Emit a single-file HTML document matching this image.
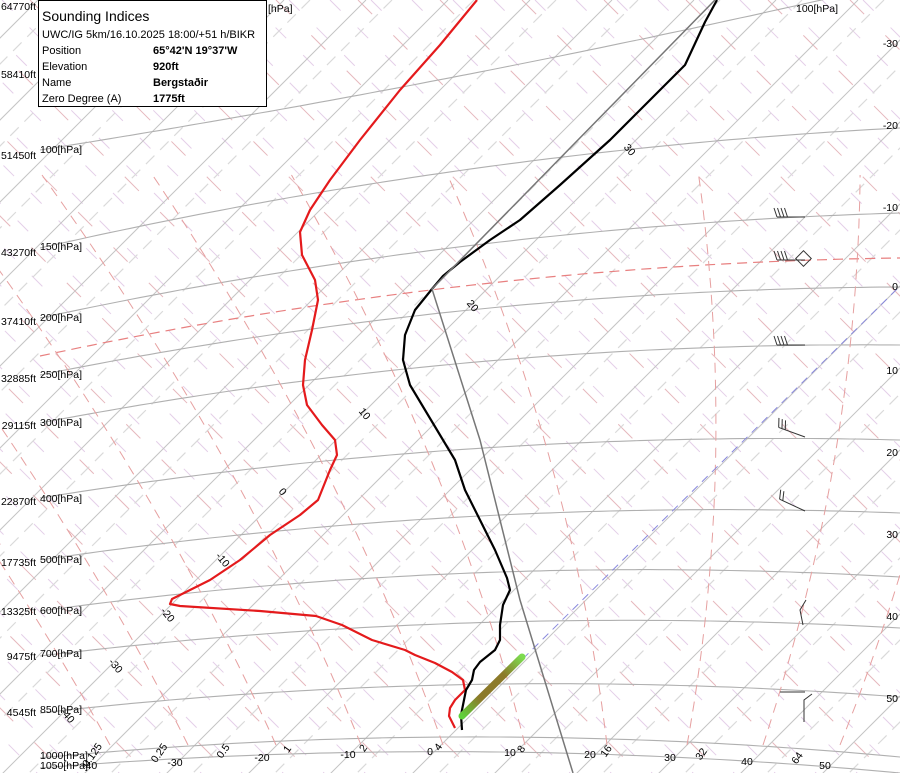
<!DOCTYPE html>
<html><head><meta charset="utf-8"><style>
html,body{margin:0;padding:0;background:#fff;overflow:hidden;width:900px;height:773px;}
svg{display:block;font-family:"Liberation Sans",sans-serif;}
</style></head><body>
<svg id="s" width="900" height="773" viewBox="0 0 900 773" xmlns="http://www.w3.org/2000/svg">
<g id="grid"></g>
<g id="curves">
<polyline fill="none" stroke="#e41a1c" stroke-width="2.2" stroke-linejoin="round" points="477,0 440,45 400,90 360,140 330,180 310,210 300,232 302,255 315,280 318,300 312,330 305,360 303,385 307,405 322,425 335,440 337,455 330,470 322,490 318,500 300,515 270,535 240,560 210,580 172,599 170,604 180,606 260,611 316,616 342,625 372,640 405,650 415,655 435,663 452,672 463,680 465,690 455,700 450,708 449,716 455,728"/>
<polyline fill="none" stroke="#000" stroke-width="2.2" stroke-linejoin="round" points="717,0 705,22 685,65 650,100 610,140 560,185 520,220 490,240 460,262 443,276 432,289 415,310 405,335 403,360 410,385 425,410 440,435 455,460 465,490 480,520 495,550 507,578 510,590 503,605 500,625 500,640 495,650 480,662 474,670 472,680 466,690 464,700 461,715 462,730"/>
<polyline fill="none" stroke="#777" stroke-width="1.5" points="715,0 432,289 480,440 520,600 573,773"/>
<defs><linearGradient id="gb" x1="0" y1="1" x2="1" y2="0"><stop offset="0" stop-color="#5fd03a"/><stop offset="0.3" stop-color="#8c7a2a"/><stop offset="0.7" stop-color="#8c7a2a"/><stop offset="1" stop-color="#7ddc50"/></linearGradient></defs>
<line x1="462" y1="716" x2="522" y2="657" stroke="url(#gb)" stroke-width="7" stroke-linecap="round"/>
</g>
<g id="barbs" stroke="#333" stroke-width="1" fill="none"></g>
<g id="labels" font-size="10.5" fill="#000"></g>
<rect x="38.5" y="0.5" width="228" height="106" fill="#fff" stroke="#000"/>
<text x="42" y="21" font-size="14">Sounding Indices</text>
<g font-size="11">
<text x="42" y="38">UWC/IG 5km/16.10.2025 18:00/+51 h/BIKR</text>
<text x="42" y="54">Position</text><text x="153" y="54" font-weight="bold">65°42'N 19°37'W</text>
<text x="42" y="70">Elevation</text><text x="153" y="70" font-weight="bold">920ft</text>
<text x="42" y="86">Name</text><text x="153" y="86" font-weight="bold">Bergstaðir</text>
<text x="42" y="102">Zero Degree (A)</text><text x="153" y="102" font-weight="bold">1775ft</text>
</g>
</svg>
<script>
var NS="http://www.w3.org/2000/svg";
var G=document.getElementById('grid'),L=document.getElementById('labels'),B=document.getElementById('barbs');
function el(p,t,a,txt){var e=document.createElementNS(NS,t);for(var k in a)e.setAttribute(k,a[k]);if(txt!=null)e.textContent=txt;p.appendChild(e);return e;}
function line(x1,y1,x2,y2,st,w,da){var a={x1:x1,y1:y1,x2:x2,y2:y2,stroke:st,'stroke-width':w||1};if(da)a['stroke-dasharray']=da;el(G,'line',a);}
// pink dry adiabats (down-right)
for(var c=-900;c<900;c+=41){line(c,0,c+900,900,'#e4cfe8',1,'15,24');}
for(var c=-880;c<900;c+=82){line(c+8,0,c+908,900,'#e6b8bd',1,'20,30');}
// isotherms
for(var T=-140;T<=60;T+=10){var s=1186+8.2*T;line(s,0,s-900,900,'#c4c4c4',1);line(s+26,0,s+26-900,900,'#dadada',1.2,'12,8');}
// isobars
function quad(yL,yM,yR){var pts=[];for(var x=40;x<=900;x+=10){var l0=(x-500)*(x-900)/((40-500)*(40-900)),l1=(x-40)*(x-900)/((500-40)*(500-900)),l2=(x-40)*(x-500)/((900-40)*(900-500));pts.push(x+','+(yL*l0+yM*l1+yR*l2).toFixed(1));}return pts.join(' ');}
var iso=[[150,68,-18],[248,165,128],[318,242,213],[375,307,287],[423,360,345],[498,447,440],[560,515,513],[611,572,577],[656,622,628],[713,684,697],[758,737,757],[768,752,773]];
iso.forEach(function(a){el(G,'polyline',{points:quad(a[0],a[1],a[2]),fill:'none',stroke:'#b0b0b0','stroke-width':1.1});});
// tropopause-ish red dashed
el(G,'polyline',{points:quad(356,282,258),fill:'none',stroke:'#e88080','stroke-width':1.2,'stroke-dasharray':'10,6'});
// mixing ratio lines
var mb=[110,188,276,361,443,525,607,687,763,840],ms=[-0.55,-0.5,-0.45,-0.4,-0.35,-0.25,-0.12,0.18,0.33,0.4];
for(var i=0;i<mb.length;i++){var pts=[];for(var y=745;y>=170;y-=10){var h=745-y;pts.push((mb[i]+ms[i]*h-0.00028*h*h).toFixed(1)+','+y);}el(G,'polyline',{points:pts.join(' '),fill:'none',stroke:'#e6a0a0','stroke-width':1,'stroke-dasharray':'10,7'});}
// blue dashed
line(463,718,898,288,'#8888dd',1,'8,6');
// left labels
var ft=[['64770ft',10],['58410ft',78],['51450ft',159],['43270ft',256],['37410ft',325],['32885ft',382],['29115ft',429],['22870ft',505],['17735ft',566],['13325ft',615],['9475ft',660],['4545ft',716]];
ft.forEach(function(a){el(L,'text',{x:36,y:a[1],'text-anchor':'end'},a[0]);});
var hp=[['100',153],['150',250],['200',321],['250',378],['300',426],['400',502],['500',563],['600',614],['700',657],['850',713],['1000',759],['1050',769]];
hp.forEach(function(a){el(L,'text',{x:40,y:a[1]},a[0]+'[hPa]');});
el(L,'text',{x:268,y:12},'[hPa]');el(L,'text',{x:796,y:12},'100[hPa]');
// right labels
[['-30',47],['-20',129],['-10',211],['0',290],['10',374],['20',456],['30',538],['40',620],['50',702]].forEach(function(a){el(L,'text',{x:898,y:a[1],'text-anchor':'end'},a[0]);});
// bottom temp labels
[['-30',175,766],['-20',262,761],['-10',348,758],['0',430,755],['10',510,756],['20',590,758],['30',670,761],['40',747,765],['50',825,769]].forEach(function(a){el(L,'text',{x:a[1],y:a[2],'text-anchor':'middle'},a[0]);});
el(L,'text',{x:82,y:769},'-40');
// mixing labels rotated
[['0.125',95,757],['0.25',162,755],['0.5',226,753],['1',290,751],['2',366,750],['4',441,749],['8',524,751],['16',609,753],['32',704,756],['64',800,760]].forEach(function(a){el(L,'text',{x:a[1],y:a[2],'text-anchor':'middle',transform:'rotate(-55 '+a[1]+' '+a[2]+')'},a[0]);});
// dry adiabat labels
[['30',627,152],['20',470,308],['10',362,416],['0',280,494],['-10',220,562],['-20',165,617],['-30',113,668],['-40',65,718]].forEach(function(a){el(L,'text',{x:a[1],y:a[2],'text-anchor':'middle',transform:'rotate(50 '+a[1]+' '+a[2]+')'},a[0]);});
// wind barbs
function barb(x,y,ang,n){var r=ang*Math.PI/180,dx=Math.cos(r),dy=Math.sin(r);var x2=x+dx*28,y2=y+dy*28;el(B,'line',{x1:x,y1:y,x2:x2,y2:y2});for(var i=0;i<n;i++){var bx=x2-dx*i*3.5,by=y2-dy*i*3.5;el(B,'line',{x1:bx,y1:by,x2:bx-dy*9+dx*3,y2:by+dx*9+dy*3});}}
barb(805,217,180,4);barb(805,260,180,4);barb(805,345,180,4);barb(805,437,-160,3);barb(805,511,-155,2);
el(B,'rect',{x:798,y:253,width:11,height:11,transform:'rotate(45 803.5 258.5)'});
el(B,'polyline',{points:'803,625 800,610 806,600'});el(B,'line',{x1:780,y1:692,x2:805,y2:692});el(B,'polyline',{points:'804,722 804,700 812,694'});
</script>
</body></html>
